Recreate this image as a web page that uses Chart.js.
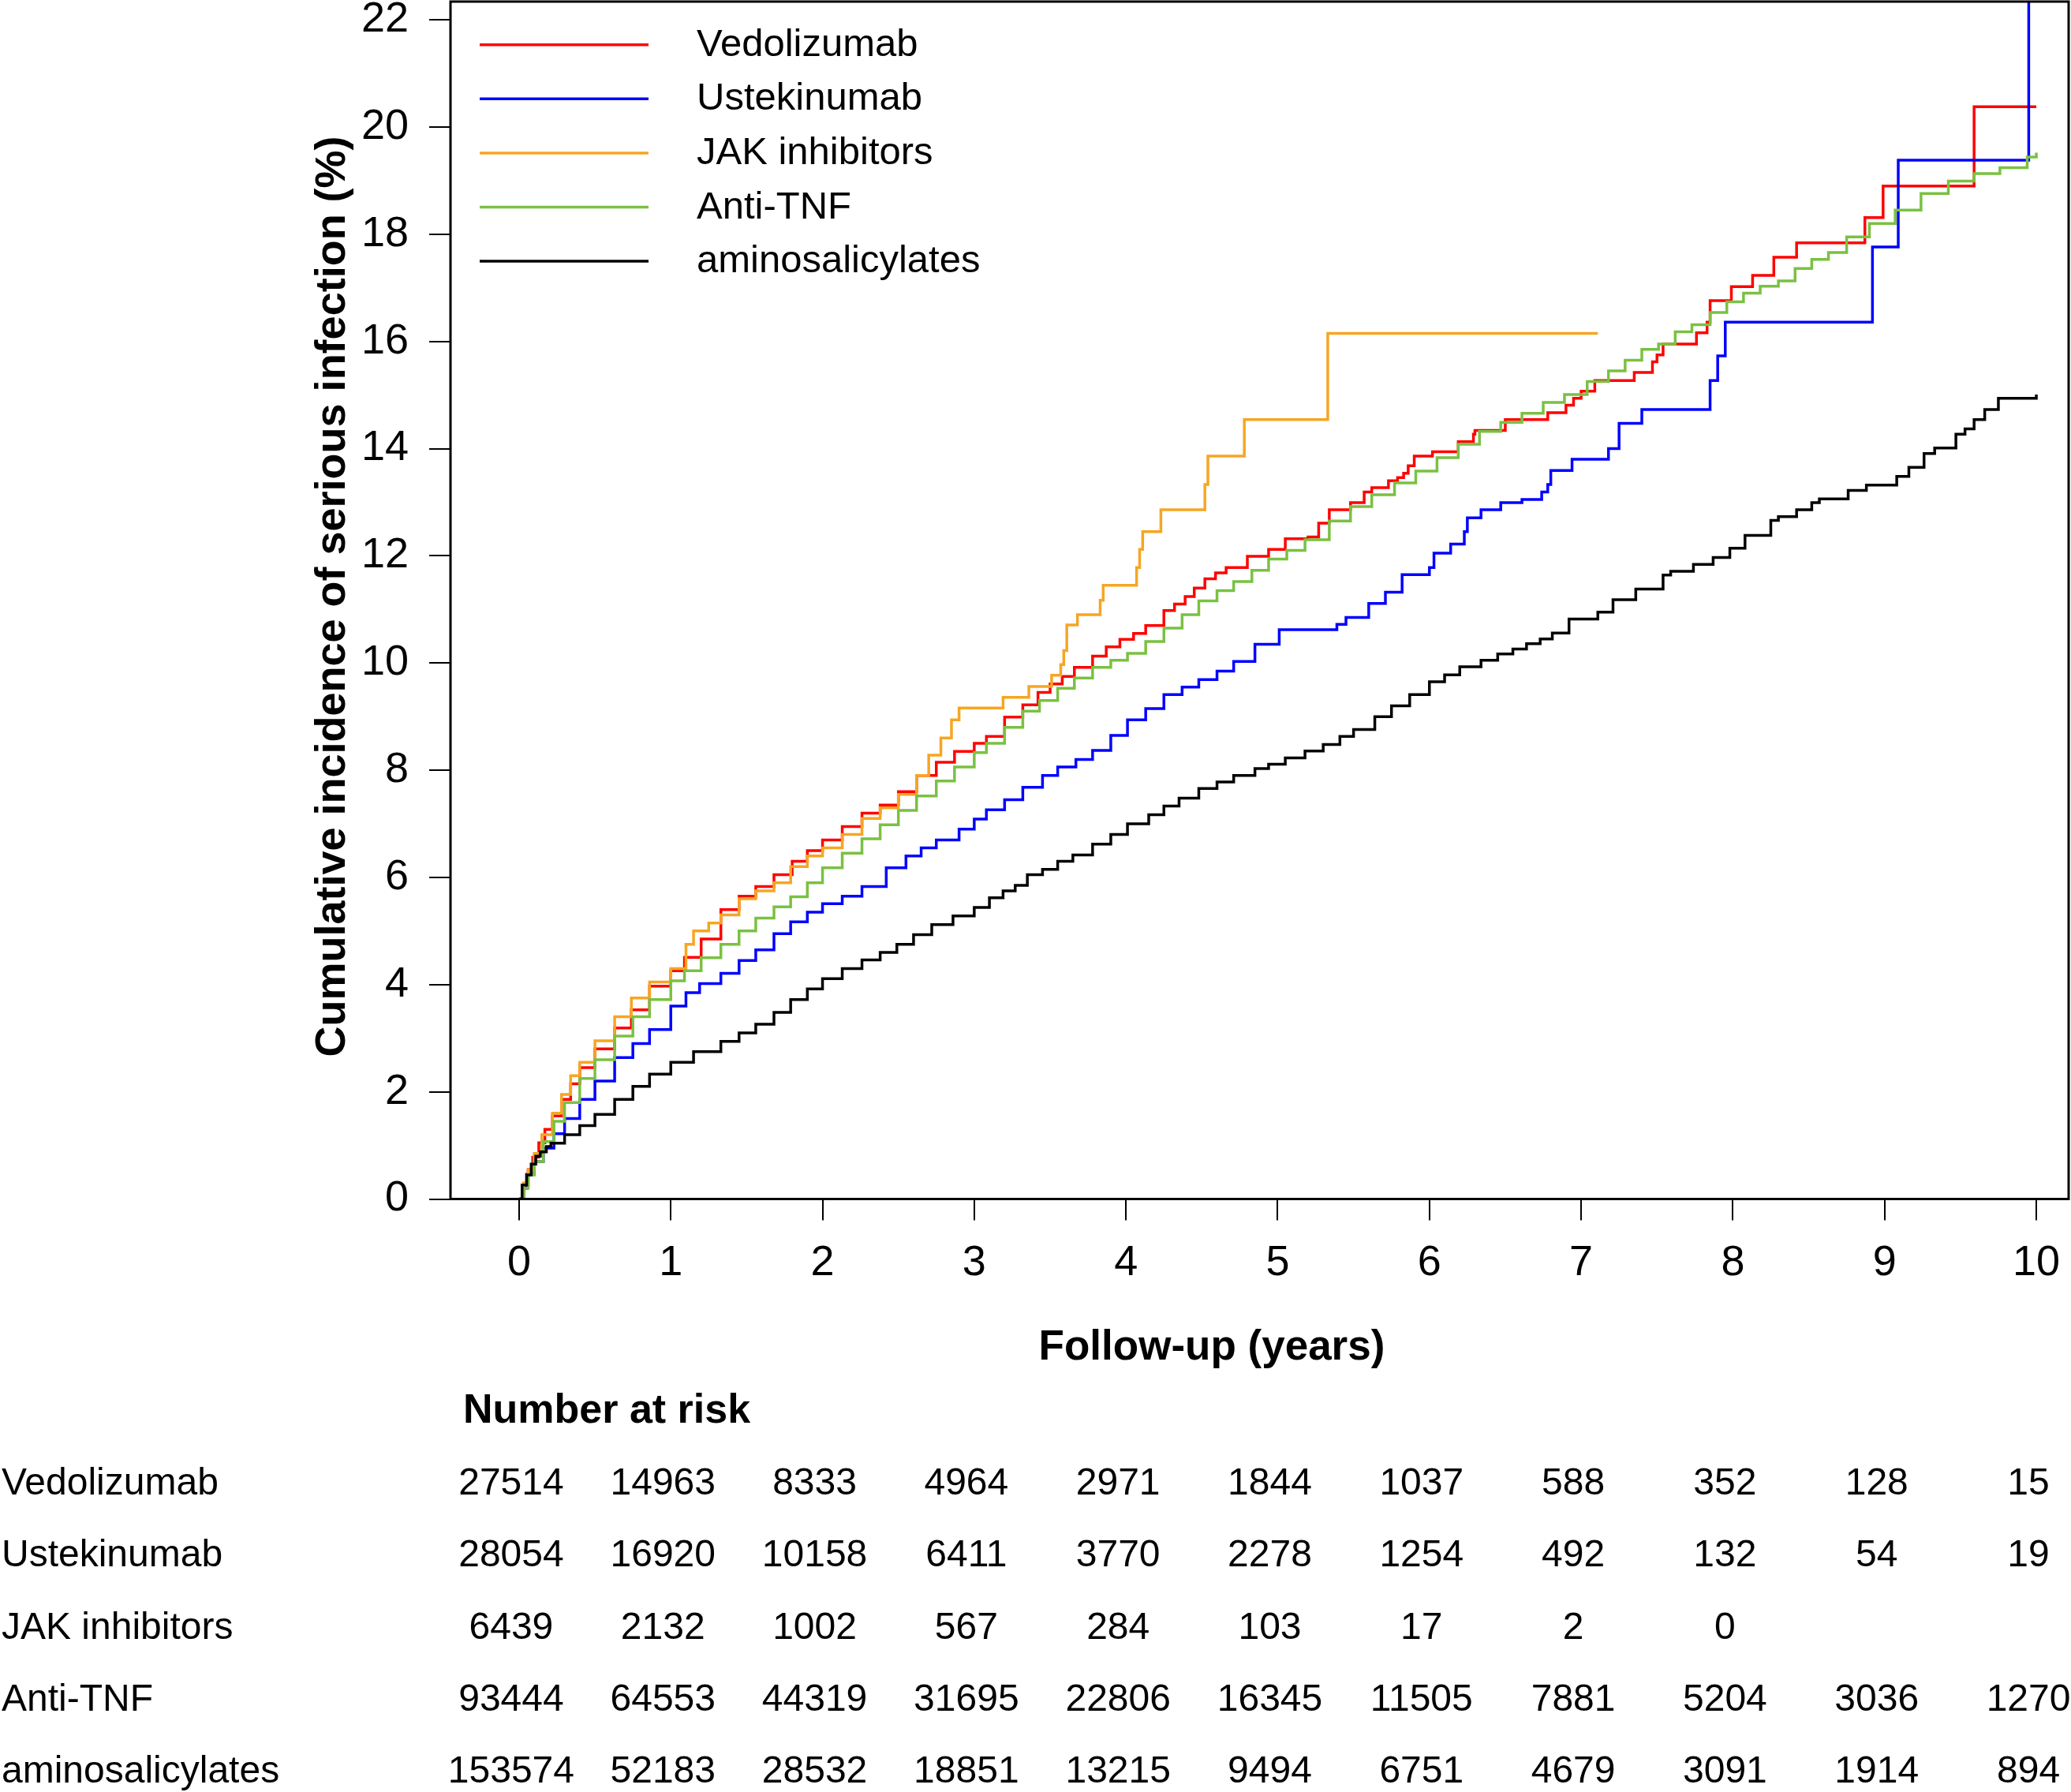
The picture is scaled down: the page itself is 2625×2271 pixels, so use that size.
<!DOCTYPE html>
<html lang="en">
<head>
<meta charset="UTF-8">
<title>Cumulative incidence of serious infection</title>
<script src="https://cdn.jsdelivr.net/npm/chart.js"></script>
<style>
  body { margin: 0; background: #fff; }
  #wrap { width: 2625px; height: 2271px; }
</style>
</head>
<body>
<div id="wrap"><canvas id="km" width="2625" height="2271"></canvas></div>
<script>
// series
const seriesNames = ['Vedolizumab', 'Ustekinumab', 'JAK inhibitors', 'Anti-TNF', 'aminosalicylates'];
const seriesColors = ['#ff0000', '#0000ff', '#f5a623', '#7ac142', '#000000'];

// follow-up time (years) and cumulative incidence (%)
const vedoT = [0, 0.03, 0.06, 0.09, 0.13, 0.17, 0.22, 0.28, 0.34, 0.40, 0.50, 0.63, 0.74, 0.86, 1.00, 1.09, 1.20, 1.33, 1.45, 1.56, 1.68, 1.80, 1.90, 2.00, 2.13, 2.26, 2.38, 2.50, 2.62, 2.75, 2.87, 3.00, 3.08, 3.20, 3.32, 3.42, 3.50, 3.58, 3.66, 3.78, 3.87, 3.96, 4.05, 4.13, 4.25, 4.32, 4.39, 4.45, 4.52, 4.59, 4.66, 4.80, 4.94, 5.05, 5.20, 5.27, 5.34, 5.48, 5.57, 5.62, 5.73, 5.79, 5.83, 5.86, 5.90, 6.02, 6.19, 6.29, 6.30, 6.50, 6.78, 6.90, 6.95, 7.00, 7.09, 7.35, 7.47, 7.50, 7.54, 7.76, 7.83, 7.85, 7.99, 8.13, 8.27, 8.42, 8.87, 8.99, 9.59, 10.00];
const vedoY = [0, 0.25, 0.55, 0.78, 1.05, 1.30, 1.55, 1.86, 2.15, 2.45, 2.80, 3.19, 3.53, 3.97, 4.26, 4.51, 4.85, 5.40, 5.65, 5.83, 6.05, 6.30, 6.50, 6.70, 6.95, 7.20, 7.35, 7.60, 7.90, 8.15, 8.35, 8.50, 8.63, 8.99, 9.22, 9.45, 9.61, 9.75, 9.92, 10.13, 10.30, 10.44, 10.55, 10.70, 10.98, 11.10, 11.24, 11.40, 11.57, 11.68, 11.78, 11.99, 12.12, 12.32, 12.35, 12.61, 12.86, 12.99, 13.19, 13.27, 13.40, 13.46, 13.54, 13.68, 13.86, 13.94, 14.13, 14.27, 14.34, 14.54, 14.67, 14.81, 14.94, 15.07, 15.27, 15.42, 15.62, 15.75, 15.95, 16.16, 16.36, 16.76, 17.02, 17.23, 17.57, 17.84, 18.31, 18.90, 20.38, 20.38];

const usteT = [0, 0.03, 0.05, 0.10, 0.16, 0.23, 0.30, 0.40, 0.50, 0.63, 0.75, 0.86, 1.00, 1.10, 1.19, 1.33, 1.45, 1.56, 1.68, 1.79, 1.90, 2.00, 2.13, 2.26, 2.42, 2.55, 2.65, 2.75, 2.90, 3.00, 3.08, 3.20, 3.32, 3.45, 3.55, 3.67, 3.78, 3.90, 4.01, 4.13, 4.25, 4.37, 4.48, 4.60, 4.71, 4.85, 5.01, 5.39, 5.45, 5.60, 5.71, 5.82, 6.00, 6.03, 6.14, 6.23, 6.25, 6.34, 6.47, 6.61, 6.74, 6.78, 6.80, 6.94, 7.18, 7.25, 7.40, 7.85, 7.90, 7.95, 8.92, 9.09, 9.95];
const usteY = [0, 0.20, 0.46, 0.70, 0.95, 1.22, 1.50, 1.86, 2.20, 2.64, 2.90, 3.16, 3.60, 3.85, 4.02, 4.21, 4.45, 4.65, 4.95, 5.17, 5.35, 5.51, 5.65, 5.83, 6.18, 6.40, 6.55, 6.70, 6.90, 7.09, 7.26, 7.45, 7.68, 7.90, 8.06, 8.20, 8.37, 8.65, 8.94, 9.15, 9.41, 9.55, 9.69, 9.85, 10.03, 10.35, 10.62, 10.72, 10.85, 11.11, 11.32, 11.65, 11.78, 12.05, 12.22, 12.45, 12.71, 12.86, 12.99, 13.05, 13.19, 13.33, 13.59, 13.80, 14.00, 14.47, 14.73, 15.27, 15.73, 16.36, 17.76, 19.38, 24];

const jakT = [0, 0.03, 0.06, 0.10, 0.15, 0.22, 0.28, 0.34, 0.40, 0.50, 0.63, 0.74, 0.86, 1.00, 1.10, 1.15, 1.25, 1.33, 1.45, 1.56, 1.68, 1.79, 1.90, 2.00, 2.13, 2.26, 2.38, 2.50, 2.62, 2.70, 2.78, 2.85, 2.90, 3.19, 3.36, 3.51, 3.57, 3.59, 3.61, 3.68, 3.83, 3.85, 4.07, 4.09, 4.11, 4.23, 4.52, 4.54, 4.78, 5.33, 7.11];
const jakY = [0, 0.30, 0.55, 0.85, 1.20, 1.60, 1.95, 2.30, 2.55, 2.95, 3.40, 3.75, 4.05, 4.30, 4.75, 5.00, 5.15, 5.30, 5.60, 5.75, 5.90, 6.20, 6.40, 6.55, 6.80, 7.10, 7.30, 7.55, 7.90, 8.28, 8.60, 8.94, 9.16, 9.36, 9.56, 9.77, 9.97, 10.23, 10.71, 10.90, 11.17, 11.45, 11.78, 12.12, 12.45, 12.86, 13.33, 13.86, 14.54, 16.15, 16.15];

const tnfT = [0, 0.03, 0.06, 0.10, 0.16, 0.23, 0.30, 0.40, 0.50, 0.63, 0.75, 0.86, 1.00, 1.09, 1.20, 1.33, 1.45, 1.56, 1.68, 1.79, 1.90, 2.00, 2.13, 2.26, 2.38, 2.50, 2.62, 2.75, 2.87, 3.00, 3.08, 3.20, 3.32, 3.43, 3.55, 3.66, 3.78, 3.90, 4.01, 4.13, 4.25, 4.37, 4.48, 4.60, 4.71, 4.83, 4.94, 5.06, 5.18, 5.34, 5.48, 5.62, 5.77, 5.91, 6.05, 6.19, 6.33, 6.47, 6.61, 6.75, 6.89, 7.04, 7.18, 7.29, 7.40, 7.51, 7.62, 7.73, 7.85, 7.96, 8.07, 8.18, 8.30, 8.41, 8.52, 8.63, 8.75, 8.90, 9.07, 9.24, 9.42, 9.59, 9.76, 9.94, 10.00];
const tnfY = [0, 0.20, 0.45, 0.70, 1.07, 1.45, 1.80, 2.25, 2.60, 3.04, 3.40, 3.72, 4.07, 4.26, 4.50, 4.75, 5.00, 5.24, 5.45, 5.64, 5.90, 6.18, 6.45, 6.72, 6.98, 7.25, 7.52, 7.80, 8.06, 8.33, 8.50, 8.80, 9.10, 9.30, 9.53, 9.72, 9.92, 10.05, 10.18, 10.40, 10.65, 10.90, 11.16, 11.35, 11.52, 11.73, 11.94, 12.10, 12.30, 12.65, 12.92, 13.14, 13.36, 13.58, 13.83, 14.08, 14.32, 14.49, 14.66, 14.86, 15.01, 15.25, 15.45, 15.65, 15.85, 15.95, 16.18, 16.31, 16.54, 16.74, 16.90, 17.03, 17.13, 17.36, 17.53, 17.66, 17.95, 18.20, 18.45, 18.76, 18.99, 19.13, 19.24, 19.44, 19.52];

const aminoT = [0, 0.02, 0.05, 0.08, 0.11, 0.14, 0.18, 0.21, 0.30, 0.40, 0.50, 0.63, 0.75, 0.86, 1.00, 1.15, 1.33, 1.45, 1.56, 1.68, 1.79, 1.90, 2.00, 2.13, 2.26, 2.38, 2.49, 2.60, 2.72, 2.86, 3.00, 3.10, 3.19, 3.27, 3.35, 3.45, 3.55, 3.65, 3.78, 3.90, 4.01, 4.15, 4.25, 4.35, 4.48, 4.60, 4.71, 4.85, 4.94, 5.05, 5.18, 5.30, 5.41, 5.50, 5.64, 5.75, 5.87, 6.00, 6.10, 6.20, 6.34, 6.45, 6.55, 6.64, 6.73, 6.81, 6.92, 7.11, 7.21, 7.36, 7.54, 7.59, 7.74, 7.87, 7.98, 8.08, 8.25, 8.30, 8.42, 8.52, 8.57, 8.76, 8.88, 9.08, 9.16, 9.26, 9.33, 9.47, 9.53, 9.59, 9.66, 9.75, 10.00];
const aminoY = [0, 0.26, 0.45, 0.65, 0.80, 0.88, 0.98, 1.04, 1.20, 1.37, 1.58, 1.86, 2.10, 2.33, 2.55, 2.75, 2.94, 3.10, 3.26, 3.48, 3.72, 3.92, 4.11, 4.30, 4.46, 4.60, 4.75, 4.93, 5.12, 5.28, 5.44, 5.62, 5.75, 5.85, 6.05, 6.15, 6.30, 6.42, 6.62, 6.80, 7.00, 7.17, 7.33, 7.48, 7.66, 7.78, 7.90, 8.03, 8.11, 8.23, 8.36, 8.48, 8.63, 8.76, 9.00, 9.20, 9.41, 9.65, 9.78, 9.93, 10.05, 10.17, 10.26, 10.36, 10.45, 10.56, 10.82, 10.95, 11.18, 11.38, 11.64, 11.71, 11.84, 11.97, 12.14, 12.38, 12.66, 12.73, 12.86, 12.99, 13.06, 13.22, 13.32, 13.48, 13.65, 13.91, 14.01, 14.27, 14.37, 14.54, 14.73, 14.94, 15.01];

// axis ticks
const xTicks = [0, 1, 2, 3, 4, 5, 6, 7, 8, 9, 10];
const yTicks = [0, 2, 4, 6, 8, 10, 12, 14, 16, 18, 20, 22];

// number at risk, one value per year
const riskTimes = [0, 1, 2, 3, 4, 5, 6, 7, 8, 9, 10];
const riskVedo = [27514, 14963, 8333, 4964, 2971, 1844, 1037, 588, 352, 128, 15];
const riskUste = [28054, 16920, 10158, 6411, 3770, 2278, 1254, 492, 132, 54, 19];
const riskJak = [6439, 2132, 1002, 567, 284, 103, 17, 2, 0];
const riskTnf = [93444, 64553, 44319, 31695, 22806, 16345, 11505, 7881, 5204, 3036, 1270];
const riskAmino = [153574, 52183, 28532, 18851, 13215, 9494, 6751, 4679, 3091, 1914, 894];

const FONT = "'Liberation Sans', Arial, Helvetica, sans-serif";
const times = [vedoT, usteT, jakT, tnfT, aminoT];
const values = [vedoY, usteY, jakY, tnfY, aminoY];
const riskRows = [riskVedo, riskUste, riskJak, riskTnf, riskAmino];

function toPoints(t, y) {
    return t.map((v, i) => ({ x: v, y: y[i] }));
}

// frame, legend inside the plot, axis titles and the risk table
const overlay = {
    id: 'overlay',
    afterDraw(chart) {
        const { ctx, chartArea: a } = chart;
        const x = chart.scales.x;
        ctx.save();

        ctx.strokeStyle = '#000';
        ctx.lineWidth = 3;
        ctx.strokeRect(a.left, a.top, a.right - a.left, a.bottom - a.top);

        ctx.font = '49px ' + FONT;
        ctx.textAlign = 'left';
        ctx.textBaseline = 'alphabetic';
        seriesNames.forEach((name, i) => {
            const y = 56.7 + i * 68.6;
            ctx.strokeStyle = seriesColors[i];
            ctx.lineWidth = 3.5;
            ctx.beginPath();
            ctx.moveTo(608, y);
            ctx.lineTo(822, y);
            ctx.stroke();
            ctx.fillStyle = '#000';
            ctx.fillText(name, 883, y + 14);
        });

        ctx.fillStyle = '#000';
        ctx.font = 'bold 53px ' + FONT;
        ctx.textAlign = 'center';
        ctx.fillText('Follow-up (years)', 1536, 1723);

        ctx.save();
        ctx.translate(437, 756);
        ctx.rotate(-Math.PI / 2);
        ctx.font = 'bold 54px ' + FONT;
        ctx.fillText('Cumulative incidence of serious infection (%)', 0, 0);
        ctx.restore();

        ctx.font = 'bold 52px ' + FONT;
        ctx.textAlign = 'left';
        ctx.fillText('Number at risk', 587, 1803);

        ctx.font = '48px ' + FONT;
        riskRows.forEach((row, r) => {
            const y = 1894 + r * 91.3;
            ctx.textAlign = 'left';
            ctx.fillText(seriesNames[r], 2, y);
            ctx.textAlign = 'center';
            row.forEach((n, j) => {
                ctx.fillText(String(n), x.getPixelForValue(riskTimes[j]) - 10, y);
            });
        });

        ctx.restore();
    }
};

new Chart(document.getElementById('km'), {
    type: 'line',
    data: {
        datasets: seriesNames.map((name, i) => ({
            label: name,
            data: toPoints(times[i], values[i]),
            borderColor: seriesColors[i],
            backgroundColor: seriesColors[i],
            borderWidth: 3.5,
            pointRadius: 0,
            stepped: 'before',
            fill: false,
            order: seriesNames.length - 1 - i
        }))
    },
    options: {
        responsive: false,
        animation: false,
        devicePixelRatio: 1,
        layout: { padding: { top: 2, right: 3, left: 0, bottom: 0 } },
        plugins: {
            legend: { display: false },
            tooltip: { enabled: false }
        },
        scales: {
            x: {
                type: 'linear',
                min: -0.452,
                max: 10.213,
                afterBuildTicks: s => { s.ticks = xTicks.map(v => ({ value: v })); },
                afterFit: s => {
                    s.height = 751.5;
                    s.paddingLeft = 0;
                    s.paddingRight = 0;
                },
                grid: { drawOnChartArea: false, drawTicks: true, tickLength: 27, color: '#000', lineWidth: 2 },
                border: { display: false },
                ticks: {
                    color: '#000',
                    font: { family: FONT, size: 54 },
                    padding: 22,
                    maxRotation: 0,
                    autoSkip: false,
                    callback: v => String(v)
                }
            },
            y: {
                type: 'linear',
                min: 0,
                max: 22.34,
                afterBuildTicks: s => { s.ticks = yTicks.map(v => ({ value: v })); },
                afterFit: s => {
                    s.width = 571;
                    s.paddingTop = 0;
                    s.paddingBottom = 0;
                },
                grid: { drawOnChartArea: false, drawTicks: true, tickLength: 27, color: '#000', lineWidth: 2 },
                border: { display: false },
                ticks: {
                    color: '#000',
                    font: { family: FONT, size: 54 },
                    padding: 26,
                    autoSkip: false,
                    callback: v => String(v)
                }
            }
        }
    },
    plugins: [overlay]
});
</script>
</body>
</html>
